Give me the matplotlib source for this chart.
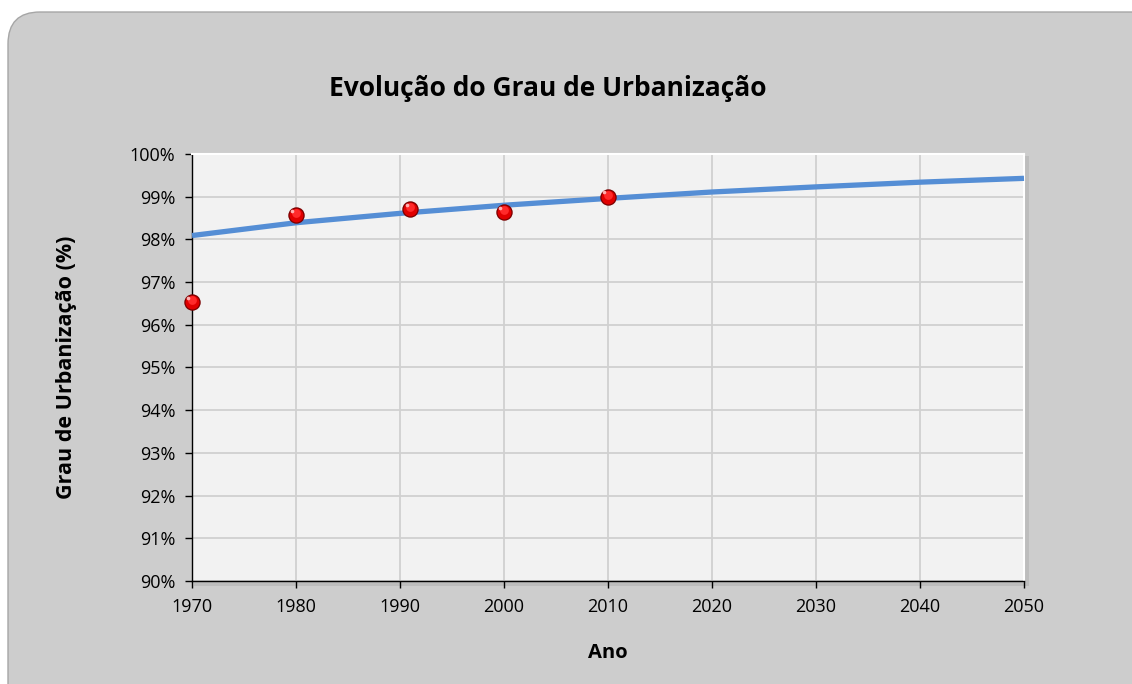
import matplotlib.pyplot as plt
from matplotlib.patches import FancyBboxPatch, Rectangle
from matplotlib.ticker import FuncFormatter, MultipleLocator

# data
anos = [1970, 1980, 1991, 2000, 2010]
grau = [96.53, 98.56, 98.71, 98.64, 99.00]

# trend line (read at each decade)
tend_anos = [1970, 1980, 1990, 2000, 2010, 2020, 2030, 2040, 2050]
tend_grau = [98.09, 98.39, 98.61, 98.80, 98.96, 99.11, 99.23, 99.34, 99.43]

plt.rcParams['font.family'] = ['Open Sans', 'DejaVu Sans']

W, H = 1132, 684
fig = plt.figure(figsize=(W / 100, H / 100), dpi=100)
fig.patch.set_facecolor('white')

# rounded grey chart area
bg = fig.add_axes([0, 0, 1, 1])
bg.set_xlim(0, W)
bg.set_ylim(H, 0)
bg.axis('off')
bg.add_patch(FancyBboxPatch((8 + 32, 12 + 32), 1160 - 64, 720 - 64,
                            boxstyle='round,pad=32', fc='#cdcdcd', ec='#a6a6a6', lw=1))

# plot area
x0, x1, y0, y1 = 192, 1024, 154, 581
# soft shadow behind plot area
bg.add_patch(Rectangle((x0 + 2, y0 + 2), x1 - x0 + 3, y1 - y0 + 3, fc='#bdbdbd', ec='none'))

ax = fig.add_axes([x0 / W, 1 - y1 / H, (x1 - x0) / W, (y1 - y0) / H])
ax.set_facecolor('#f2f2f2')
ax.set_xlim(1970, 2050)
ax.set_ylim(90, 100)
ax.xaxis.set_major_locator(MultipleLocator(10))
ax.yaxis.set_major_locator(MultipleLocator(1))
ax.yaxis.set_major_formatter(FuncFormatter(lambda v, p: f'{v:.0f}%'))
ax.grid(True, color='#d0d0d0', lw=1.3)
ax.set_axisbelow(True)

for s in ['top', 'right']:
    ax.spines[s].set_color('white')
    ax.spines[s].set_linewidth(1.5)
for s in ['left', 'bottom']:
    ax.spines[s].set_color('#000000')
    ax.spines[s].set_linewidth(1.0)
ax.tick_params(direction='out', length=5, width=1, labelsize=13, colors='#000000', pad=7)

# trend line
ax.plot(tend_anos, tend_grau, color='#558ed5', lw=3.8, solid_capstyle='butt', zorder=3, clip_on=False)

# red "sphere" markers
ax.scatter(anos, grau, s=140, color='#7a0000', zorder=4, clip_on=False, lw=0)
ax.scatter(anos, grau, s=100, color='#e00000', zorder=5, clip_on=False, lw=0)
ax.scatter(anos, [g + 0.05 for g in grau], s=40, color='#ff2a2a', zorder=6, clip_on=False, lw=0)
ax.scatter([a - 0.35 for a in anos], [g + 0.1 for g in grau], s=7, color='#ffb0b0', zorder=7, clip_on=False, lw=0)

ax.set_xlabel('Ano', fontsize=14.5, fontweight='bold', labelpad=20)
ax.set_ylabel('Grau de Urbanização (%)', fontsize=15.5, fontweight='bold', labelpad=38)

fig.text(548 / W, 1 - 88 / H, 'Evolução do Grau de Urbanização', ha='center', va='center',
         fontsize=19, fontweight='bold', color='#000000')

fig.savefig('out.png', dpi=100)
